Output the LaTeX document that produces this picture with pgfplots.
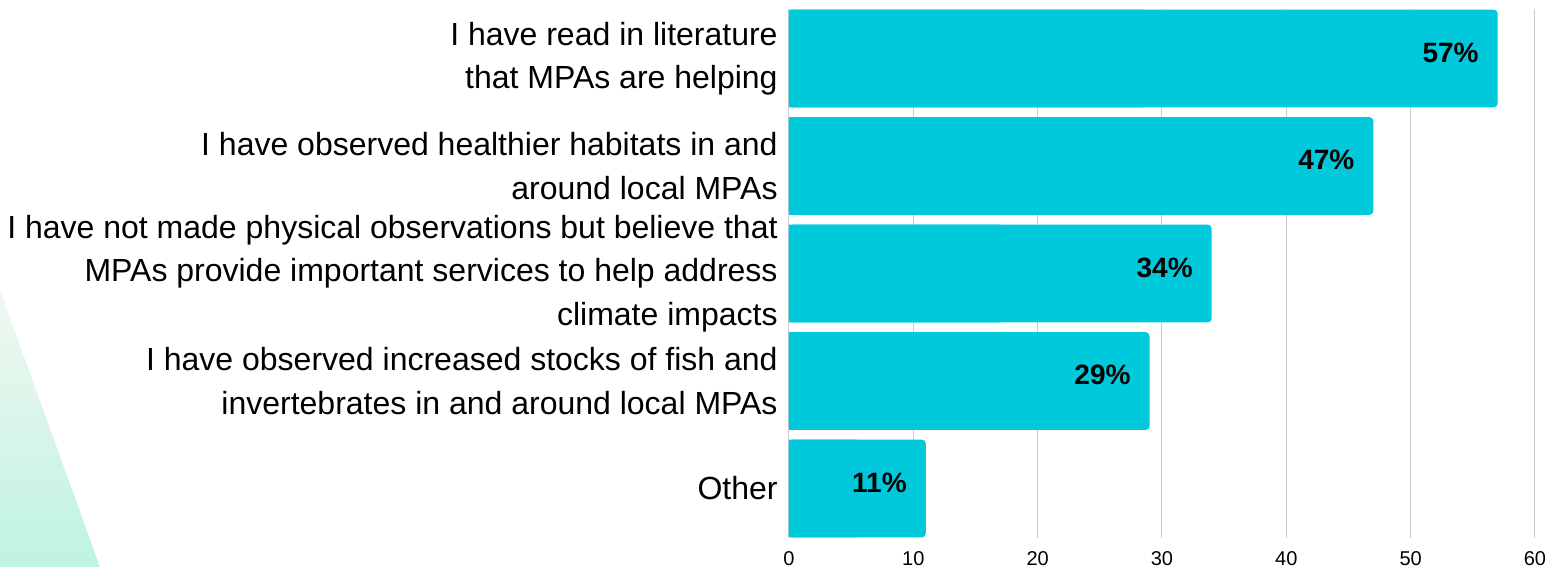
\documentclass[border=0pt]{standalone}
\usepackage{fontspec}
\setmainfont{Liberation Sans}
\usepackage{pgfplots}
\usepackage{pgfplotstable}
\pgfplotsset{compat=1.18}
\definecolor{barcol}{RGB}{0,201,219}
\definecolor{gridcol}{RGB}{204,204,204}
\definecolor{mintA}{RGB}{242,247,240}
\definecolor{mintB}{RGB}{190,243,226}
\pgfplotstableread{
y v
0 57
1 47
2 34
3 29
4 11
}\datatable
\begin{document}
\begin{tikzpicture}
\useasboundingbox (0pt,0pt) rectangle (779.5pt,283.5pt);
\shade[top color=mintA, bottom color=mintB] (0pt,138.5pt) -- (50pt,0pt) -- (0pt,0pt) -- cycle;
\begin{axis}[
  at={(394.5pt,14.5pt)}, anchor=south west,
  scale only axis, width=373pt, height=264.5pt,
  xmin=0, xmax=60, ymin=-0.46, ymax=4.46,
  y dir=reverse,
  xtick={0,10,...,60},
  ytick={0,1,2,3,4},
  yticklabels={{I have read in literature\hspace{5pt}\\that MPAs are helping\hspace{5pt}},
    {I have observed healthier habitats in and\\around local MPAs},
    {I have not made physical observations but believe that\\MPAs provide important services to help address\\climate impacts},
    {I have observed increased stocks of fish and\\invertebrates in and around local MPAs},
    {Other}},
  yticklabel style={align=right, inner sep=0pt, xshift=-5.5pt, font=\fontsize{16}{21.7}\selectfont},
  xticklabel style={inner sep=0pt, yshift=-6.5pt, font=\fontsize{10}{12}\selectfont},
  /pgf/number format/assume math mode=true,
  axis line style={draw=none},
  major tick length=0pt,
  xmajorgrids, grid style={gridcol, line width=0.5pt},
  xbar, bar width=0.91, bar shift=0pt,
  clip=false,
]
\addplot[draw=none, fill=barcol] table[x expr=\thisrow{v}/2, y=y]{\datatable};
\addplot[draw=none, fill=barcol, rounded corners=2pt,
  nodes near coords={\pgfmathprintnumber{\pgfplotspointmeta}\%},
  point meta=x,
  nodes near coords style={anchor=east, xshift=-6pt, yshift=3pt, text=black, font=\bfseries\fontsize{14}{16}\selectfont}]
  table[x=v, y=y]{\datatable};
\end{axis}
\end{tikzpicture}
\end{document}
